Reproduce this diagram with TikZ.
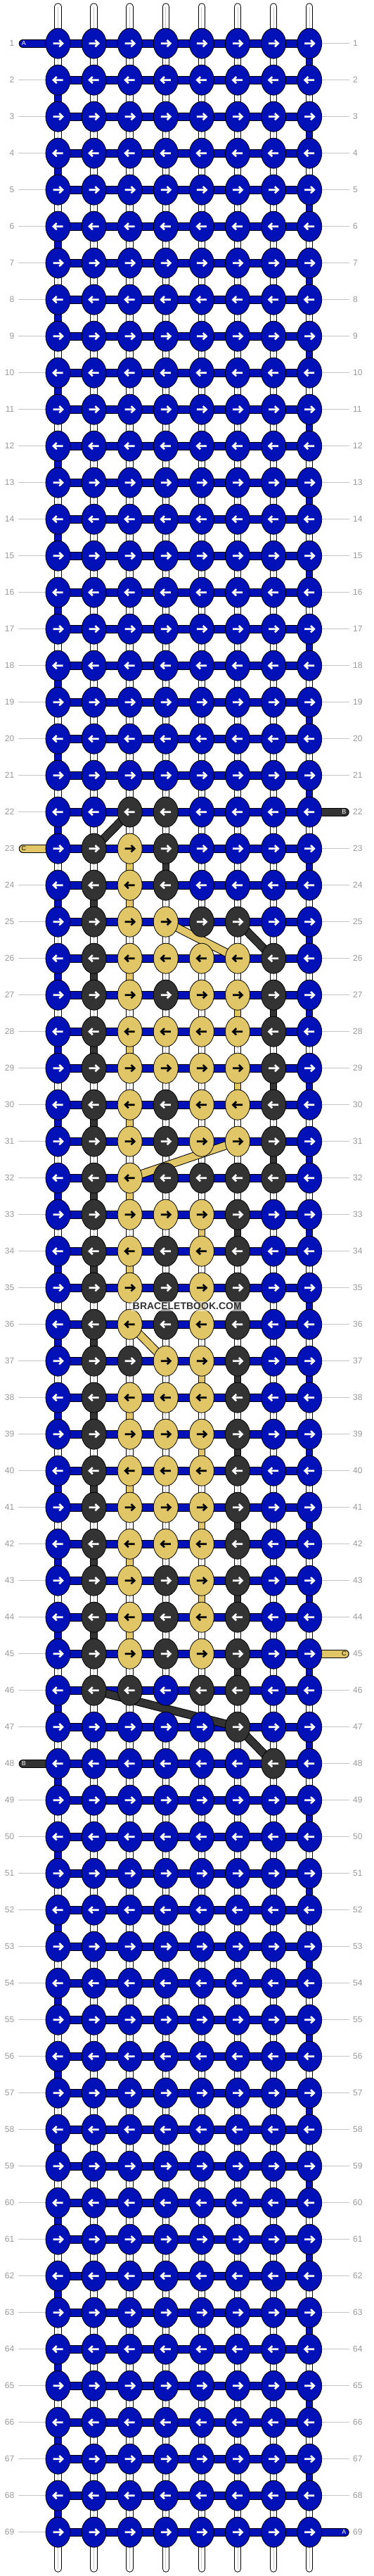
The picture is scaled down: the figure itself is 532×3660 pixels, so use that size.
\documentclass[tikz,border=0pt]{standalone}
\usepackage{fontspec}
\setmainfont{Liberation Sans}
\usetikzlibrary{shapes.geometric,backgrounds}
\definecolor{colA}{HTML}{0011B8}
\definecolor{colB}{HTML}{333333}
\definecolor{colC}{HTML}{E0C666}
\definecolor{lblgray}{HTML}{999999}
\definecolor{linegray}{HTML}{C4C4C4}
\definecolor{tubegray}{HTML}{C8C8C8}
\colorlet{arrA}{white}
\colorlet{arrB}{white}
\colorlet{arrC}{black}
\newcommand\defknotrow[2]{\expandafter\def\csname rowpat#1\endcsname{#2}}
\defknotrow{22}{A,A,B,B,A,A,A,A}
\defknotrow{23}{A,B,C,B,A,A,A,A}
\defknotrow{24}{A,B,C,B,A,A,A,A}
\defknotrow{25}{A,B,C,C,B,B,A,A}
\defknotrow{26}{A,B,C,C,C,C,B,A}
\defknotrow{27}{A,B,C,B,C,C,B,A}
\defknotrow{28}{A,B,C,C,C,C,B,A}
\defknotrow{29}{A,B,C,C,C,C,B,A}
\defknotrow{30}{A,B,C,B,C,C,B,A}
\defknotrow{31}{A,B,C,B,C,C,B,A}
\defknotrow{32}{A,B,C,B,B,B,B,A}
\defknotrow{33}{A,B,C,C,C,B,A,A}
\defknotrow{34}{A,B,C,B,C,B,A,A}
\defknotrow{35}{A,B,C,B,C,B,A,A}
\defknotrow{36}{A,B,C,B,C,B,A,A}
\defknotrow{37}{A,B,B,C,C,B,A,A}
\defknotrow{38}{A,B,C,C,C,B,A,A}
\defknotrow{39}{A,B,C,C,C,B,A,A}
\defknotrow{40}{A,B,C,C,C,B,A,A}
\defknotrow{41}{A,B,C,C,C,B,A,A}
\defknotrow{42}{A,B,C,C,C,B,A,A}
\defknotrow{43}{A,B,C,B,C,B,A,A}
\defknotrow{44}{A,B,C,B,C,B,A,A}
\defknotrow{45}{A,B,C,B,C,B,A,A}
\defknotrow{46}{A,B,B,A,B,B,A,A}
\defknotrow{47}{A,A,A,A,A,B,A,A}
\defknotrow{48}{A,A,A,A,A,A,B,A}
\tikzset{
  knot/.style={ellipse, draw=black, line width=0.8pt, minimum width=35pt, minimum height=43pt, inner sep=0pt, outer sep=0pt},
  rowlbl/.style={text=lblgray, font=\fontsize{12}{12}\selectfont, inner sep=0pt},
  guide/.style={draw=linegray, line width=1pt},
  endlbl/.style={font=\fontsize{9}{9}\selectfont, inner sep=0pt},
  tube/.style={draw=white, line width=8.5pt, line cap=round,
     preaction={draw=black, line width=10.5pt, line cap=round},
     postaction={draw=tubegray, line width=1pt, line cap=butt}},
  seg/.style={draw=#1, line width=8.5pt, preaction={draw=black, line width=10.5pt}},
  bar/.style={draw=#1, line width=10pt, preaction={draw=black, line width=12pt}},
  endbar/.style={draw=#1, line width=10pt, line cap=round, preaction={draw=black, line width=12pt, line cap=round}},
  rarr/.pic={\draw[line width=2.6pt, draw=#1, line join=miter] (-7,0) -- (6.2,0) (1.8,-4.6) -- (6.6,0) -- (1.8,4.6);},
  larr/.pic={\draw[line width=2.6pt, draw=#1, line join=miter] (7,0) -- (-6.2,0) (-1.8,-4.6) -- (-6.6,0) -- (-1.8,4.6);},
}
\begin{document}
\begin{tikzpicture}[x=1pt,y=-1pt]
\useasboundingbox (0,0) rectangle (532,3660);
% knots
\foreach \r in {1,...,69} {
  \pgfmathsetmacro\yy{61.7+52*(\r-1)}
  \ifcsname rowpat\r\endcsname \edef\pat{\csname rowpat\r\endcsname}\else\def\pat{A,A,A,A,A,A,A,A}\fi
  \foreach \k [count=\c] in \pat {
    \pgfmathsetmacro\xx{82.5+51.1*(\c-1)}
    \node[knot, fill=col\k] (k-\r-\c) at (\xx,\yy) {};
    \ifodd\r\relax
      \pic at (\xx,\yy) {rarr=arr\k};
    \else
      \pic at (\xx,\yy) {larr=arr\k};
    \fi
  }
  \node[rowlbl, anchor=east] (ll-\r) at (20.5,\yy) {\r};
  \node[rowlbl, anchor=west] (rl-\r) at (502,\yy) {\r};
  \coordinate (gl-\r) at (25.7,\yy);
  \coordinate (gr-\r) at (496.7,\yy);
  \coordinate (endL-\r) at (32.7,\yy);
  \coordinate (endR-\r) at (490.7,\yy);
}
% end labels
\node[endlbl, text=white] (eA1) at (33.8,61.7) {A};
\node[endlbl, text=black] (eC1) at (33.8,1205.7) {C};
\node[endlbl, text=white] (eB2) at (33.8,2505.7) {B};
\node[endlbl, text=white] (eB1) at (489.3,1153.7) {B};
\node[endlbl, text=black] (eC2) at (489.3,2349.7) {C};
\node[endlbl, text=white] (eA2) at (489.3,3597.7) {A};
% watermark
\node[font=\bfseries\fontsize{14}{14}\selectfont, text=colB, fill=white, fill opacity=0.55, text opacity=1, inner xsep=2pt, inner ysep=2pt] (wm) at (266.3,1855.7) {BRACELETBOOK.COM};
\begin{scope}[on background layer]
  \fill[white] (0,0) rectangle (532,3660);
  % guide lines
  \foreach \r in {1,...,69} {
    \ifnum\r=1 \else\ifnum\r=23 \else\ifnum\r=48 \else
      \draw[guide] (gl-\r) -- (k-\r-1.west);
    \fi\fi\fi
    \ifnum\r=22 \else\ifnum\r=45 \else\ifnum\r=69 \else
      \draw[guide] (k-\r-8.east) -- (gr-\r);
    \fi\fi\fi
  }
  % base strings
  \foreach \c in {1,...,8} {
    \pgfmathsetmacro\xx{82.5+51.1*(\c-1)}
    \coordinate (top-\c) at (\xx,9.5);
    \coordinate (bot-\c) at (\xx,3649.5);
    \draw[tube] (top-\c) -- (bot-\c);
  }
  % blue turns at the edges
  \foreach \r in {1,...,68} {
    \pgfmathtruncatemacro\rn{\r+1}
    \ifodd\r\relax \def\cc{8}\else \def\cc{1}\fi
    \draw[seg=colA] (k-\r-\cc.center) -- (k-\rn-\cc.center);
  }
  % coloured vertical turns
  \foreach \r/\cc/\k in {23/4/B, 24/2/B, 26/2/B, 27/7/B, 28/2/B, 29/7/B, 30/2/B, 31/7/B, 32/2/B, 33/6/B, 34/2/B, 35/6/B, 36/2/B, 37/6/B, 38/2/B, 39/6/B, 40/2/B, 41/6/B, 42/2/B, 43/6/B, 44/2/B, 45/6/B,
      23/3/C, 24/3/C, 26/3/C, 27/6/C, 28/3/C, 29/6/C, 30/3/C, 32/3/C, 33/5/C, 34/3/C, 35/5/C, 37/5/C, 38/3/C, 39/5/C, 40/3/C, 41/5/C, 42/3/C, 43/5/C, 44/3/C} {
    \pgfmathtruncatemacro\rn{\r+1}
    \draw[seg=col\k] (k-\r-\cc.center) -- (k-\rn-\cc.center);
  }
  % horizontal working rows
  \foreach \r in {1,...,69} {
    \draw[bar=colA] (k-\r-1.center) -- (k-\r-8.center);
  }
  % thread ends
  \draw[endbar=colA] (endL-1) -- (k-1-1.center);
  \draw[endbar=colC] (endL-23) -- (k-23-1.center);
  \draw[endbar=colB] (endL-48) -- (k-48-1.center);
  \draw[endbar=colB] (k-22-8.center) -- (endR-22);
  \draw[endbar=colC] (k-45-8.center) -- (endR-45);
  \draw[endbar=colA] (k-69-8.center) -- (endR-69);
  % diagonal moves
  \foreach \a/\b/\p/\q/\k in {22/3/23/2/B, 25/6/26/7/B, 46/2/47/6/B, 47/6/48/7/B, 25/4/26/6/C, 31/6/32/3/C, 36/3/37/4/C} {
    \draw[bar=col\k] (k-\a-\b.center) -- (k-\p-\q.center);
  }
\end{scope}
\end{tikzpicture}
\end{document}
